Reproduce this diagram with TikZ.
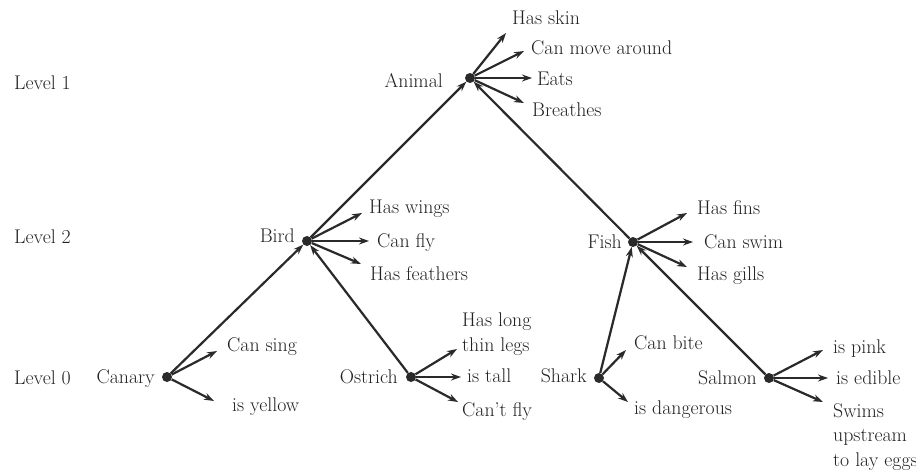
\documentclass[tikz,border=0pt]{standalone}
\usetikzlibrary{arrows.meta}
\definecolor{ink}{HTML}{2A2A2A}
\definecolor{txt}{HTML}{222222}
\begin{document}
\begin{tikzpicture}[x=1pt,y=-1pt,
 dot/.style={circle,fill=ink,inner sep=0pt,minimum size=10pt},
 lbl/.style={text=txt,font=\fontsize{19.8}{24.5}\selectfont,inner sep=0pt},
 prop/.style={lbl,anchor=base west,align=left},
 cls/.style={lbl,anchor=base east},
 arr/.style={draw=ink,line width=2.2pt,-{Stealth[length=10pt,width=7pt]}},
]
\useasboundingbox (0,0) rectangle (916,471);
\fill[white] (0,0) rectangle (916,471);
% level labels
\node[prop] (lv1) at (14,89) {Level 1};
\node[prop] (lv2) at (14,243) {Level 2};
\node[prop] (lv0) at (14,384) {Level 0};
% concept dots
\node[dot] (animal) at (470,78) {};
\node[dot] (bird) at (307,241) {};
\node[dot] (fish) at (633,242) {};
\node[dot] (canary) at (167,377) {};
\node[dot] (ostrich) at (411,377) {};
\node[dot] (shark) at (599,378) {};
\node[dot] (salmon) at (769,378) {};
% concept labels
\node[cls] (tAnimal) at (443,87) {Animal};
\node[cls] (tBird) at (295,242) {Bird};
\node[cls] (tFish) at (622,248) {Fish};
\node[cls] (tCanary) at (155,383) {Canary};
\node[cls] (tOstrich) at (398,383) {Ostrich};
\node[cls] (tShark) at (587,382) {Shark};
\node[cls] (tSalmon) at (757,384) {Salmon};
% hierarchy
\draw[arr] (bird) -- (animal);
\draw[arr] (fish) -- (animal);
\draw[arr] (canary) -- (bird);
\draw[arr] (ostrich) -- (bird);
\draw[arr] (shark) -- (fish);
\draw[arr] (salmon) -- (fish);
% property texts
\node[prop] (pSkin) at (512,24) {Has skin};
\node[prop] (pMove) at (531,54) {Can move around};
\node[prop] (pEats) at (537,85) {Eats};
\node[prop] (pBreath) at (532,116) {Breathes};
\node[prop] (pWings) at (369,213) {Has wings};
\node[prop] (pFly) at (377,247) {Can fly};
\node[prop] (pFeath) at (370,280) {Has feathers};
\node[prop] (pFins) at (697,214) {Has fins};
\node[prop] (pSwim) at (704,248) {Can swim};
\node[prop] (pGills) at (697,280) {Has gills};
\node[prop] (pSing) at (227,351) {Can sing};
\node[prop] (pYellow) at (232,411) {is yellow};
\node[prop] (pLegs) at (462,351) {Has long\\thin legs};
\node[prop] (pTall) at (467,382) {is tall};
\node[prop] (pCant) at (462,416) {Can’t fly};
\node[prop] (pBite) at (634,349) {Can bite};
\node[prop] (pDang) at (634,414) {is dangerous};
\node[prop] (pPink) at (833,353) {is pink};
\node[prop] (pEdible) at (836,384) {is edible};
\node[prop] (pSwims) at (833,466) {Swims\\upstream\\to lay eggs};
% property arrow ends
\coordinate (eSkin) at (506,33);
\coordinate (eMove) at (524,51);
\coordinate (eEats) at (532,78);
\coordinate (eBreath) at (524,103);
\coordinate (eWings) at (362,213);
\coordinate (eFly) at (369,241);
\coordinate (eFeath) at (361,264);
\coordinate (eFins) at (687,213);
\coordinate (eSwim) at (693,242);
\coordinate (eGills) at (687,267);
\coordinate (eSing) at (217,351);
\coordinate (eYellow) at (214,401);
\coordinate (eLegs) at (457,349);
\coordinate (eTall) at (461,377);
\coordinate (eCant) at (458,402);
\coordinate (eBite) at (626,350);
\coordinate (eDang) at (628,402);
\coordinate (ePink) at (823,350);
\coordinate (eEdible) at (828,378);
\coordinate (eSwims) at (823,402);
% property arrows
\foreach \s/\e in {animal/eSkin,animal/eMove,animal/eEats,animal/eBreath,
  bird/eWings,bird/eFly,bird/eFeath,fish/eFins,fish/eSwim,fish/eGills,
  canary/eSing,canary/eYellow,ostrich/eLegs,ostrich/eTall,ostrich/eCant,
  shark/eBite,shark/eDang,salmon/ePink,salmon/eEdible,salmon/eSwims}
  \draw[arr] (\s) -- (\e);
\end{tikzpicture}
\end{document}
